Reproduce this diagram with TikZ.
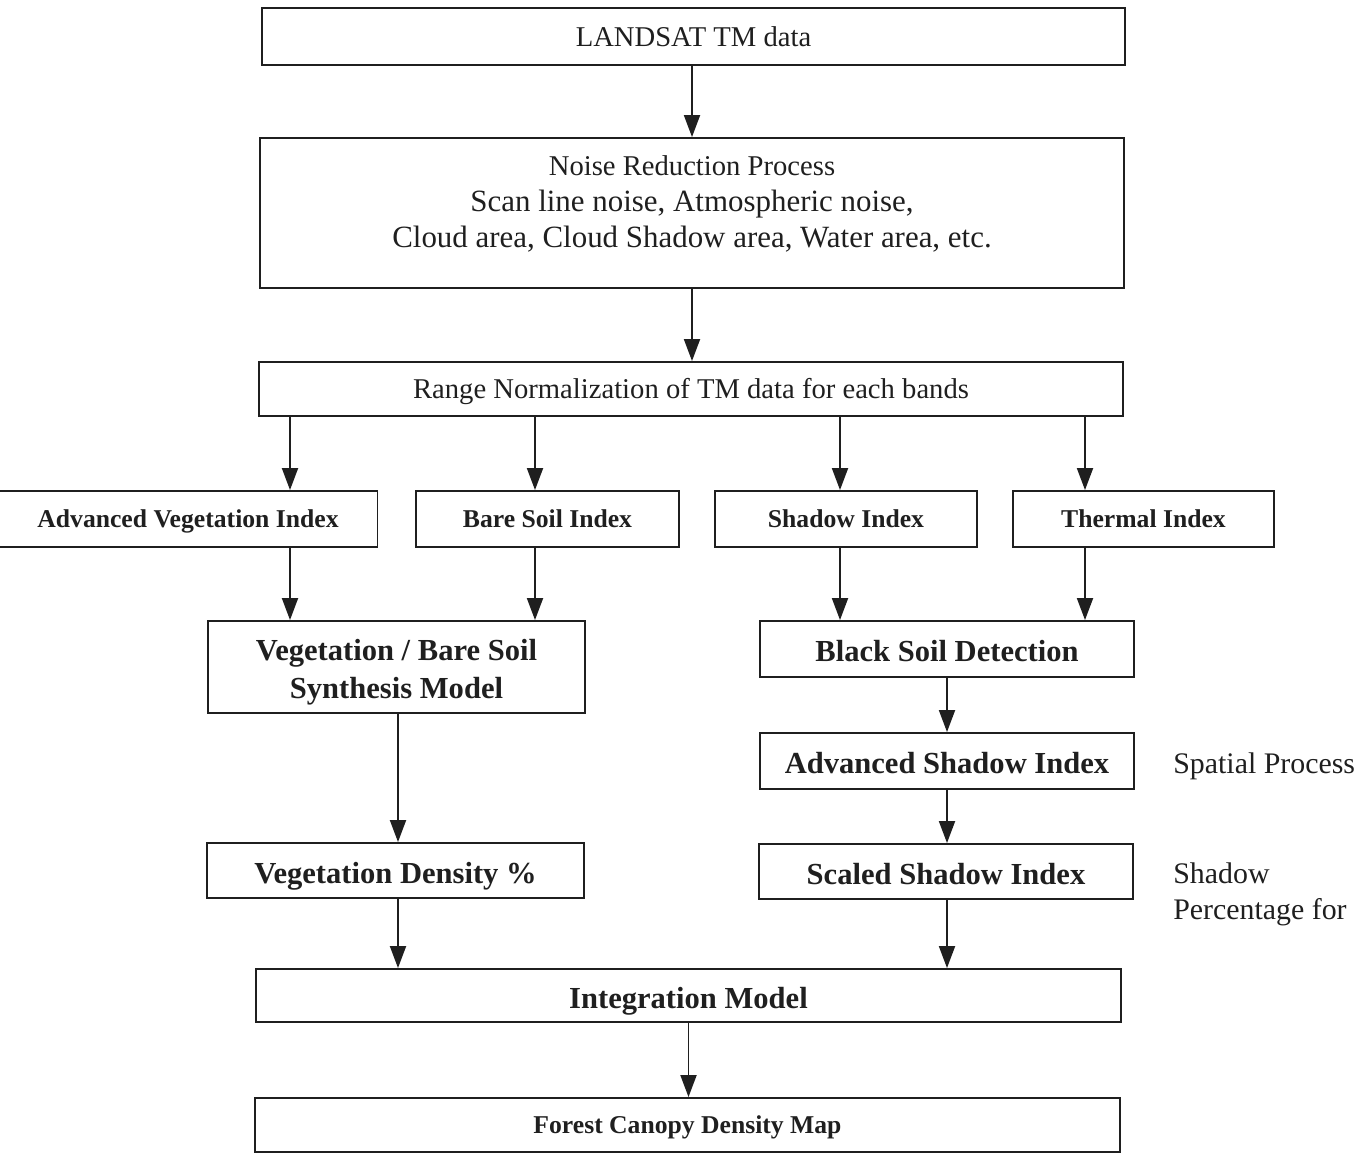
\documentclass[tikz,border=0pt]{standalone}
\usepackage{fontspec}
\setmainfont{Liberation Serif}
\usetikzlibrary{arrows.meta}
\tikzset{>={Triangle[length=4.4mm,width=3.2mm]}}
\colorlet{ink}{black!88}

\tikzset{
  box/.style={draw=ink, line width=1.1pt, inner sep=0pt, text=ink},
  plaintext/.style={font=\fontsize{16.3}{20.4}\selectfont},
  bigtext/.style={font=\fontsize{17.4}{21.5}\selectfont\bfseries},
  smalltext/.style={font=\fontsize{14.6}{17.5}\selectfont\bfseries},
  plainbox/.style={box, plaintext, text height=11.1pt, text depth=0pt},
  bigbold/.style={box, bigtext, text height=14.3pt, text depth=0pt},
  smallbold/.style={box, smalltext, text height=9.9pt, text depth=0pt},
  inbox/.style={align=center, inner sep=0pt, text=ink},
  flow/.style={->, draw=ink, line width=1.1pt},
  sidenote/.style={anchor=west, align=left, text=ink, inner sep=0pt,
                   font=\fontsize{17}{20.4}\selectfont}
}

\begin{document}
\begin{tikzpicture}[x=0.02cm,y=-0.02cm]
  \useasboundingbox (0,0) rectangle (1366,1154);
  % top of the chain
  \node[plainbox, minimum width=17.26cm, minimum height=1.14cm] (landsat) at (693.5,36.5) {LANDSAT TM data};
  \node[box, minimum width=17.28cm, minimum height=3.0cm] (noise) at (692,213) {};
  \node[inbox, plaintext] (noisetext) at ([yshift=0.18cm]noise.center)
    {Noise Reduction Process\\{\fontsize{17.6}{20.4}\selectfont Scan line noise, Atmospheric noise,}\\
     {\fontsize{17.6}{20.4}\selectfont Cloud area, Cloud Shadow area, Water area, etc.}};
  \node[plainbox, minimum width=17.28cm, minimum height=1.08cm] (range) at (691,389)
    {Range Normalization of TM data for each bands};
  % the four indices
  \node[smallbold, minimum width=7.58cm, minimum height=1.12cm] (avi) at (188,519) {Advanced Vegetation Index};
  \node[smallbold, minimum width=5.26cm, minimum height=1.12cm] (bsi) at (547.5,519) {Bare Soil Index};
  \node[smallbold, minimum width=5.24cm, minimum height=1.12cm] (si) at (846,519) {Shadow Index};
  \node[smallbold, minimum width=5.22cm, minimum height=1.12cm] (ti) at (1143.5,519) {Thermal Index};
  % left branch
  \node[box, minimum width=7.54cm, minimum height=1.84cm] (synth) at (396.5,667) {};
  \node[inbox, bigtext] (synthtext) at ([yshift=-0.1cm]synth.center)
    {Vegetation / Bare Soil\\Synthesis Model};
  \node[bigbold, minimum width=7.54cm, minimum height=1.10cm] (vd) at (395.5,870.5) {Vegetation Density \%};
  % right branch
  \node[bigbold, minimum width=7.48cm, minimum height=1.12cm] (bsd) at (947,649) {Black Soil Detection};
  \node[bigbold, minimum width=7.48cm, minimum height=1.12cm] (asi) at (947,761) {Advanced Shadow Index};
  \node[bigbold, minimum width=7.48cm, minimum height=1.10cm] (ssi) at (946,871.5) {Scaled Shadow Index};
  % bottom
  \node[bigbold, minimum width=17.3cm, minimum height=1.06cm] (integ) at (688.5,995.5) {Integration Model};
  \node[smallbold, minimum width=17.3cm, minimum height=1.08cm] (fcd) at (687.5,1125) {Forest Canopy Density Map};
  % notes on the right
  \node[sidenote] (spatial) at (1173,766) {Spatial Process};
  \node[sidenote] (shadowpct) at (1173,894) {Shadow\\Percentage for};
  % x positions of the arrows
  \coordinate (a1) at (290,0);
  \coordinate (a2) at (535,0);
  \coordinate (a3) at (840,0);
  \coordinate (a4) at (1085,0);
  \coordinate (a5) at (398,0);
  \coordinate (a6) at (947,0);
  \coordinate (a7) at (692,0);
  % arrows
  \draw[flow] (landsat.south -| a7) -- (noise.north -| a7);
  \draw[flow] (noise.south -| a7) -- (range.north -| a7);
  \foreach \p/\q in {a1/avi, a2/bsi, a3/si, a4/ti}
    \draw[flow] (range.south -| \p) -- (\q.north -| \p);
  \draw[flow] (avi.south -| a1) -- (synth.north -| a1);
  \draw[flow] (bsi.south -| a2) -- (synth.north -| a2);
  \draw[flow] (si.south -| a3) -- (bsd.north -| a3);
  \draw[flow] (ti.south -| a4) -- (bsd.north -| a4);
  \draw[flow] (bsd.south -| a6) -- (asi.north -| a6);
  \draw[flow] (asi.south -| a6) -- (ssi.north -| a6);
  \draw[flow] (synth.south -| a5) -- (vd.north -| a5);
  \draw[flow] (vd.south -| a5) -- (integ.north -| a5);
  \draw[flow] (ssi.south -| a6) -- (integ.north -| a6);
  \draw[flow] (integ.south) -- (fcd.north -| integ.south);
\end{tikzpicture}
\end{document}
